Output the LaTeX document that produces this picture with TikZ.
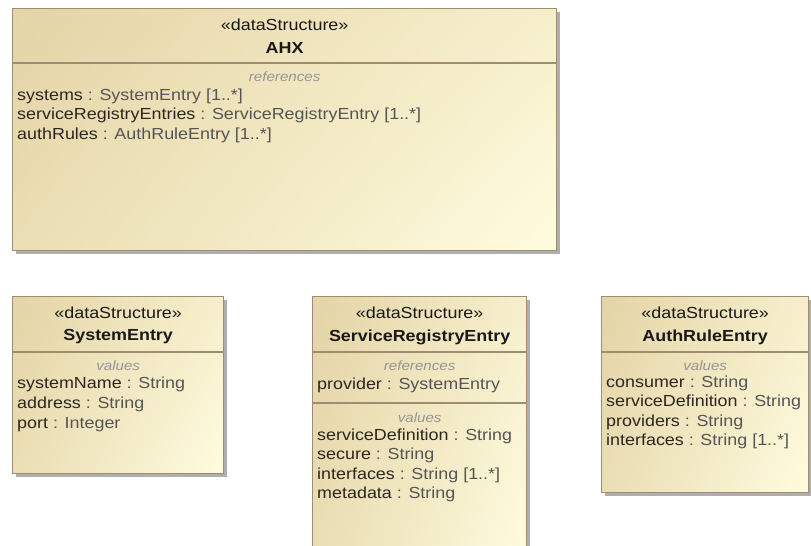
\documentclass[tikz,border=0pt]{standalone}
\usepackage{fontspec}
\setmainfont{Liberation Sans}[FakeStretch=1.12]
\usetikzlibrary{calc,shadows,shadings}
\definecolor{bordercol}{RGB}{160,140,112}
\definecolor{shadowcol}{RGB}{175,175,175}
\definecolor{namecol}{RGB}{45,38,32}
\definecolor{typecol}{RGB}{85,85,85}
\definecolor{labelcol}{RGB}{150,150,150}
\definecolor{headcol}{RGB}{25,25,25}
\definecolor{fillUL}{RGB}{228,212,166}
\definecolor{fillUR}{RGB}{247,239,204}
\definecolor{fillLL}{RGB}{234,222,180}
\definecolor{fillLR}{RGB}{255,252,222}
\newcommand{\attrline}[2]{{\color{namecol}#1}\ {\color{typecol}: #2}}
\tikzset{
  umlbox/.style={draw=bordercol, line width=1.3pt, inner sep=0pt, anchor=north west,
    upper left=fillUL, upper right=fillUR, lower left=fillLL, lower right=fillLR,
    drop shadow={shadow xshift=3.5pt, shadow yshift=-3.5pt, fill=shadowcol, opacity=1}},
  stereo/.style={inner sep=0pt, text=headcol, font=\fontsize{16}{18}\selectfont},
  clsname/.style={inner sep=0pt, text=headcol, font=\fontsize{16}{18}\selectfont\bfseries},
  seclabel/.style={inner sep=0pt, text=labelcol, font=\fontsize{13.5}{16}\selectfont\itshape},
  attr/.style={inner sep=0pt, anchor=west, text height=11.5pt, text depth=3pt, font=\fontsize{16}{18}\selectfont},
  divider/.style={draw=bordercol, line width=1.3pt}
}
\begin{document}
\begin{tikzpicture}[x=1pt,y=-1pt]
\useasboundingbox (0,0) rectangle (811,546);
\clip (0,0) rectangle (811,546);
% ---------------- AHX
\node[umlbox, minimum width=544pt, minimum height=242pt] (ahx) at (12,8) {};
\node[stereo] (ahxst) at ($(ahx.north)+(0,17)$) {«dataStructure»};
\node[clsname] (ahxnm) at ($(ahx.north)+(0,40)$) {AHX};
\draw[divider] ($(ahx.north west)+(0,55)$) -- ($(ahx.north east)+(0,55)$);
\node[seclabel] (ahxref) at ($(ahx.north)+(0,69)$) {references};
\node[attr] (ahxa1) at ($(ahx.north west)+(5,88)$) {\attrline{systems}{SystemEntry [1..*]}};
\node[attr] (ahxa2) at ($(ahx.north west)+(5,107.5)$) {\attrline{serviceRegistryEntries}{ServiceRegistryEntry [1..*]}};
\node[attr] (ahxa3) at ($(ahx.north west)+(5,127)$) {\attrline{authRules}{AuthRuleEntry [1..*]}};
% ---------------- SystemEntry
\node[umlbox, minimum width=211pt, minimum height=177pt] (se) at (12,296) {};
\node[stereo] (sest) at ($(se.north)+(0,17)$) {«dataStructure»};
\node[clsname] (senm) at ($(se.north)+(0,41)$) {SystemEntry};
\draw[divider] ($(se.north west)+(0,56)$) -- ($(se.north east)+(0,56)$);
\node[seclabel] (seval) at ($(se.north)+(0,70)$) {values};
\node[attr] (sea1) at ($(se.north west)+(5,88)$) {\attrline{systemName}{String}};
\node[attr] (sea2) at ($(se.north west)+(5,108)$) {\attrline{address}{String}};
\node[attr] (sea3) at ($(se.north west)+(5,128)$) {\attrline{port}{Integer}};
% ---------------- ServiceRegistryEntry
\node[umlbox, minimum width=214pt, minimum height=270pt] (sre) at (312,296) {};
\node[stereo] (srest) at ($(sre.north)+(0,17)$) {«dataStructure»};
\node[clsname] (srenm) at ($(sre.north)+(0,41)$) {ServiceRegistryEntry};
\draw[divider] ($(sre.north west)+(0,56)$) -- ($(sre.north east)+(0,56)$);
\node[seclabel] (sreref) at ($(sre.north)+(0,70)$) {references};
\node[attr] (srea0) at ($(sre.north west)+(5,89)$) {\attrline{provider}{SystemEntry}};
\draw[divider] ($(sre.north west)+(0,107)$) -- ($(sre.north east)+(0,107)$);
\node[seclabel] (sreval) at ($(sre.north)+(0,122)$) {values};
\node[attr] (srea1) at ($(sre.north west)+(5,140)$) {\attrline{serviceDefinition}{String}};
\node[attr] (srea2) at ($(sre.north west)+(5,159.5)$) {\attrline{secure}{String}};
\node[attr] (srea3) at ($(sre.north west)+(5,179)$) {\attrline{interfaces}{String [1..*]}};
\node[attr] (srea4) at ($(sre.north west)+(5,198.5)$) {\attrline{metadata}{String}};
% ---------------- AuthRuleEntry
\node[umlbox, minimum width=207pt, minimum height=196pt] (are) at (601,296) {};
\node[stereo] (arest) at ($(are.north)+(0,17)$) {«dataStructure»};
\node[clsname] (arenm) at ($(are.north)+(0,41)$) {AuthRuleEntry};
\draw[divider] ($(are.north west)+(0,56)$) -- ($(are.north east)+(0,56)$);
\node[seclabel] (areval) at ($(are.north)+(0,70)$) {values};
\node[attr] (area1) at ($(are.north west)+(5,87)$) {\attrline{consumer}{String}};
\node[attr] (area2) at ($(are.north west)+(5,106.5)$) {\attrline{serviceDefinition}{String}};
\node[attr] (area3) at ($(are.north west)+(5,126)$) {\attrline{providers}{String}};
\node[attr] (area4) at ($(are.north west)+(5,145.5)$) {\attrline{interfaces}{String [1..*]}};
\end{tikzpicture}
\end{document}
